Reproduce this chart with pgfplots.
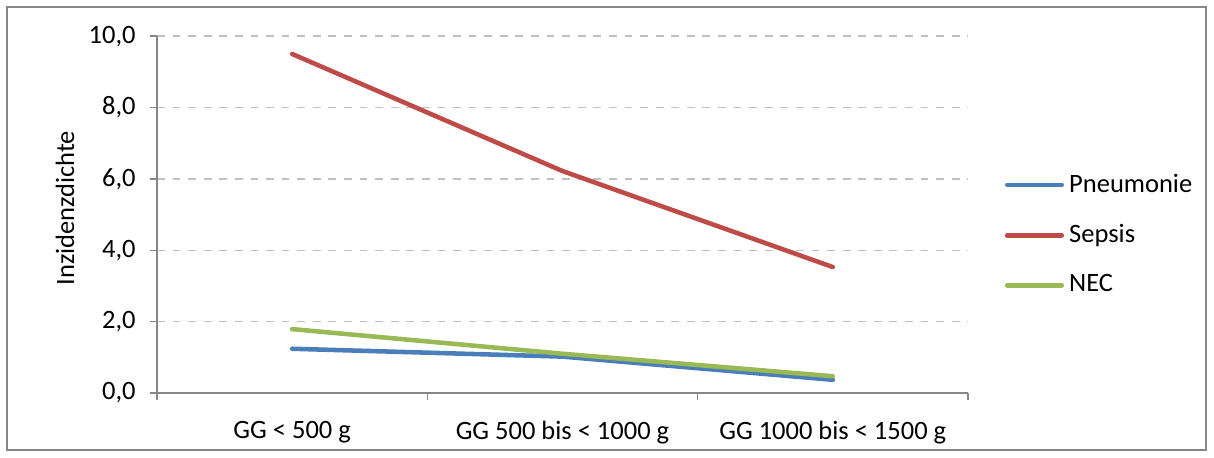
\documentclass[border=0pt]{standalone}
\usepackage{fontspec}
\setmainfont{Carlito}
\usepackage{pgfplots}
\pgfplotsset{compat=1.18}
\definecolor{pblue}{HTML}{4A7EBB}
\definecolor{pred}{HTML}{BE4B48}
\definecolor{pgreen}{HTML}{98B954}
\definecolor{axiscol}{HTML}{868686}
\definecolor{gridcol}{HTML}{BFBFBF}
\begin{document}
\begin{tikzpicture}
\useasboundingbox (-60.445pt,-24.64pt) rectangle (406.945pt,151.305pt);
\begin{axis}[
  at={(0pt,0pt)}, anchor=south west,
  scale only axis, width=312.2pt, height=137.4pt,
  xmin=0.5, xmax=3.5, ymin=0, ymax=10,
  axis x line*=bottom, axis y line*=left,
  axis line style={draw=axiscol, line width=0.5pt},
  xtick={1,2,3},
  xticklabels={GG < 500 g, GG 500 bis < 1000 g, GG 1000 bis < 1500 g},
  major x tick style={draw=none},
  minor xtick={0.5,1.5,2.5,3.5},
  minor tick length=2.7pt,
  major tick length=2.7pt,
  tick align=outside,
  tick style={draw=axiscol, line width=0.5pt},
  ytick={0,2,4,6,8,10},
  ymajorgrids,
  major grid style={draw=gridcol, dashed, line width=0.5pt},
  /pgf/number format/.cd, fixed, fixed zerofill, precision=1, use comma, assume math mode=true,
  /pgfplots/.cd,
  ticklabel style={font=\fontsize{10.2}{12}\selectfont, text=black},
  yticklabel style={xshift=-2pt},
  xticklabel style={yshift=-4.5pt},
  ylabel={Inzidenzdichte},
  ylabel style={at={(axis description cs:-0.1134,0.518)}, rotate=0, anchor=center, font=\fontsize{10.2}{12}\selectfont},
  legend style={at={(rel axis cs:1.045,0.63)}, anchor=north west, draw=none, fill=none,
    font=\fontsize{10.2}{12}\selectfont, row sep=6.9pt, inner sep=0pt},
  legend cell align=left,
  legend image code/.code={\draw[#1] (0pt,0pt) -- (21pt,0pt);},
  every axis plot/.append style={line width=1.75pt, line cap=round, line join=round},
]
\addplot[pblue] coordinates {(1,1.24) (2,1.02) (3,0.37)};
\addlegendentry{Pneumonie}
\addplot[pred] coordinates {(1,9.50) (2,6.22) (3,3.53)};
\addlegendentry{Sepsis}
\addplot[pgreen] coordinates {(1,1.79) (2,1.10) (3,0.47)};
\addlegendentry{NEC}
\end{axis}
\draw[axiscol, line width=0.5pt] (-57.75pt,-21.945pt) rectangle (403.87pt,148.61pt);
\end{tikzpicture}
\end{document}
